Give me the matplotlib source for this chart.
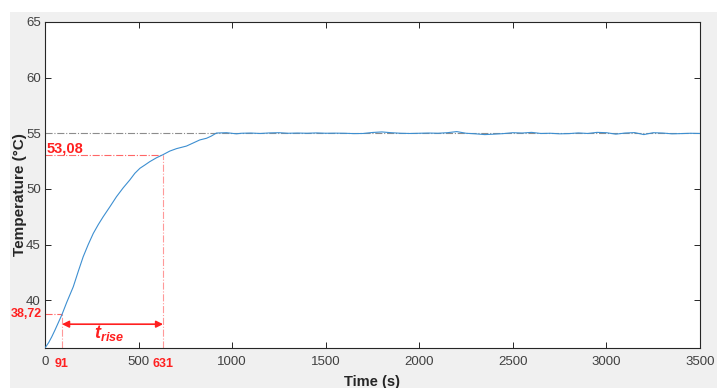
import matplotlib
matplotlib.use('Agg')
import matplotlib.pyplot as plt
from matplotlib.patches import Rectangle

plt.rcParams['font.family'] = ['Liberation Sans', 'DejaVu Sans']
plt.rcParams['mathtext.fontset'] = 'custom'
plt.rcParams['mathtext.bfit'] = 'Liberation Sans:bold:italic'

# heating phase (s, degC)
rise_time = [0, 20, 36, 53, 91, 116, 151, 178, 204, 231, 258, 285, 311, 347,
             382, 418, 453, 480, 507, 534, 560, 596, 631, 667, 703, 756, 791,
             827, 863, 889, 916, 970, 1023]
rise_temp = [35.7, 36.2, 36.7, 37.3, 38.72, 39.8, 41.2, 42.6, 43.9, 45.0, 46.0,
             46.8, 47.5, 48.4, 49.3, 50.1, 50.8, 51.4, 51.85, 52.15, 52.45, 52.8,
             53.08, 53.4, 53.62, 53.85, 54.12, 54.4, 54.55, 54.75, 55.02, 55.05,
             54.95]

# steady state, every 50 s from 1050 to 3500
steady_time = list(range(1050, 3501, 50))
steady_temp = [55.0, 55.02, 54.98, 55.03, 55.05, 55.0, 55.02, 55.0, 55.03, 55.0,
               55.01, 55.0, 54.97, 54.98, 55.07, 55.12, 55.05, 55.0, 54.98, 55.0,
               55.02, 55.0, 55.05, 55.15, 55.0, 54.95, 54.88, 54.92, 54.97, 55.05,
               55.02, 55.08, 54.98, 55.0, 54.95, 54.97, 55.03, 54.98, 55.08, 55.05,
               54.92, 55.02, 55.06, 54.88, 55.05, 55.02, 54.95, 54.97, 55.0, 54.98]

time = rise_time + steady_time
temp = rise_temp + steady_temp

t_10, T_10 = 91, 38.72
t_90, T_90 = 631, 53.08
T_final = 55.0
y_min = 35.7

fig = plt.figure(figsize=(7.17, 3.88), dpi=100)
fig.patch.set_facecolor('white')
fig.add_artist(Rectangle((10 / 717, 0), 1, 1 - 12 / 388, transform=fig.transFigure,
                         facecolor='#f0f0f0', edgecolor='none', zorder=-10))
ax = fig.add_axes([45 / 717, 1 - 348 / 388, 655 / 717, 326 / 388])
ax.set_facecolor('white')

ax.plot(time, temp, color='#3d8fd1', lw=0.8, zorder=3)

# reference lines
ax.axhline(T_final, color='#8c8c8c', lw=0.8, ls='-.', zorder=2)
ax.plot([0, t_90], [T_90, T_90], color='#ff4040', lw=0.8, ls='-.', alpha=0.8)
ax.plot([t_90, t_90], [y_min, T_90], color='#ff8080', lw=0.8, ls='-.', alpha=0.8)
ax.plot([0, t_10], [T_10, T_10], color='#ff4040', lw=0.8, ls='-.', alpha=0.8)
ax.plot([t_10, t_10], [y_min, T_10], color='#ff8080', lw=0.8, ls='-.', alpha=0.8)

ax.annotate('', xy=(t_90, 37.84), xytext=(t_10, 37.84),
            arrowprops=dict(arrowstyle='<|-|>', color='#ff2020', lw=1.2,
                            mutation_scale=10, shrinkA=0, shrinkB=0))
ax.text(340, 37.05, r'$\mathbfit{t}_{\mathbfit{rise}}$', color='#ff2020',
        fontsize=13, ha='center', va='center')

ax.text(10, 53.3, '53,08', color='#ff2020', fontsize=10.5, fontweight='bold',
        ha='left', va='baseline')
ax.text(-18, T_10, '38,72', color='#ff2020', fontsize=9, fontweight='bold',
        ha='right', va='center', clip_on=False)
for t in (t_10, t_90):
    ax.text(t, -0.03, str(t), color='#ff2020', fontsize=9, fontweight='bold',
            ha='center', va='top', transform=ax.get_xaxis_transform())

ax.set_xlim(0, 3500)
ax.set_ylim(y_min, 65)
ax.set_xticks(range(0, 3501, 500))
ax.set_yticks([40, 45, 50, 55, 60, 65])

for s in ax.spines.values():
    s.set_color('#262626')
    s.set_linewidth(0.8)
ax.tick_params(direction='in', length=4, width=0.7, color='#262626',
               labelcolor='#404040', labelsize=9.5, top=True, right=True)
ax.tick_params(axis='x', pad=6)
ax.tick_params(axis='y', pad=3)

ax.set_xlabel('Time (s)', fontsize=10.5, fontweight='bold', color='#262626')
ax.set_ylabel('Temperature (°C)', fontsize=11, fontweight='bold', color='#262626')
ax.xaxis.set_label_coords(0.5, -0.083)
ax.yaxis.set_label_coords(-0.027, 0.472)

fig.savefig('out.png', dpi=100)
